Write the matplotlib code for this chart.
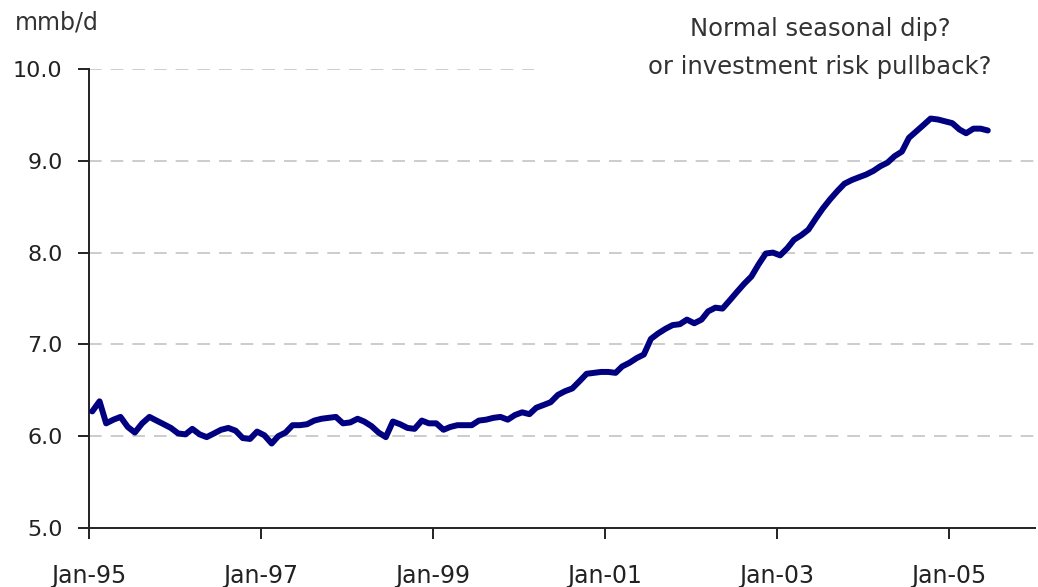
import pandas as pd
import matplotlib
matplotlib.use("Agg")
import matplotlib.pyplot as plt
import matplotlib.dates as mdates

plt.rcParams['font.family'] = ['DejaVu Sans']

# monthly output, mmb/d, Jan-95 .. Jun-05
start_month = '1995-01-01'
production = [
    6.27, 6.38, 6.14, 6.18, 6.21, 6.10, 6.04, 6.14, 6.21, 6.17, 6.13, 6.09,
    6.03, 6.02, 6.08, 6.02, 5.99, 6.03, 6.07, 6.09, 6.06, 5.98, 5.97, 6.05,
    6.01, 5.92, 6.00, 6.04, 6.12, 6.12, 6.13, 6.17, 6.19, 6.20, 6.21, 6.14,
    6.15, 6.19, 6.16, 6.11, 6.04, 5.99, 6.16, 6.13, 6.09, 6.08, 6.17, 6.14,
    6.14, 6.07, 6.10, 6.12, 6.12, 6.12, 6.17, 6.18, 6.20, 6.21, 6.18, 6.23,
    6.26, 6.24, 6.31, 6.34, 6.37, 6.45, 6.49, 6.52, 6.60, 6.68, 6.69, 6.70,
    6.70, 6.69, 6.76, 6.80, 6.85, 6.89, 7.06, 7.12, 7.17, 7.21, 7.22, 7.27,
    7.23, 7.27, 7.36, 7.40, 7.39, 7.48, 7.57, 7.66, 7.74, 7.87, 7.99, 8.00,
    7.97, 8.05, 8.14, 8.19, 8.25, 8.37, 8.48, 8.58, 8.67, 8.75, 8.79, 8.82,
    8.85, 8.89, 8.94, 8.98, 9.05, 9.10, 9.25, 9.32, 9.39, 9.46, 9.45, 9.43,
    9.41, 9.34, 9.30, 9.35, 9.35, 9.33,
]
y_ticks = [5.0, 6.0, 7.0, 8.0, 9.0, 10.0]
tick_years = [1995, 1997, 1999, 2001, 2003, 2005]
annotation = "Normal seasonal dip?\nor investment risk pullback?"

# values are monthly averages, drawn mid-month
dates = pd.date_range(start_month, periods=len(production), freq='MS') + pd.Timedelta(days=14)

fig = plt.figure(figsize=(10.38, 5.87), dpi=100)
ax = fig.add_axes([0.0857, 0.1005, 0.9113, 0.782])

# dashed gridlines; the top one is cut short by the note
for level in y_ticks[1:]:
    xmax = 0.47 if level == 10.0 else 1.0
    ax.axhline(level, xmax=xmax, color='#c8c8c8', lw=1.3,
               dashes=(7, 5), zorder=1)

ax.plot(dates, production, color='#000080', lw=4.3,
        solid_joinstyle='round', solid_capstyle='round', zorder=3)

ax.set_ylim(5.0, 10.0)
ax.set_yticks(y_ticks)
ax.set_yticklabels([f'{v:.1f}' for v in y_ticks])
ax.set_xlim(pd.Timestamp('1995-01-01'), pd.Timestamp('2006-01-01'))
ax.set_xticks([pd.Timestamp(f'{y}-01-01') for y in tick_years])
ax.xaxis.set_major_formatter(mdates.DateFormatter('%b-%y'))

for side in ['top', 'right']:
    ax.spines[side].set_visible(False)
for side in ['left', 'bottom']:
    ax.spines[side].set_linewidth(1.4)
    ax.spines[side].set_color('#222222')

ax.tick_params(axis='y', direction='out', length=8, width=1.4,
               labelsize=16, pad=11, colors='#222222')
ax.tick_params(axis='x', direction='out', length=8, width=1.4,
               labelsize=17, pad=18, colors='#222222')

fig.text(0.014, 0.962, 'mmb/d', fontsize=17, color='#333333',
         ha='left', va='center')
fig.text(0.79, 0.918, annotation, fontsize=17.5, color='#333333',
         ha='center', va='center', linespacing=1.75)

fig.savefig('out.png', dpi=100)
